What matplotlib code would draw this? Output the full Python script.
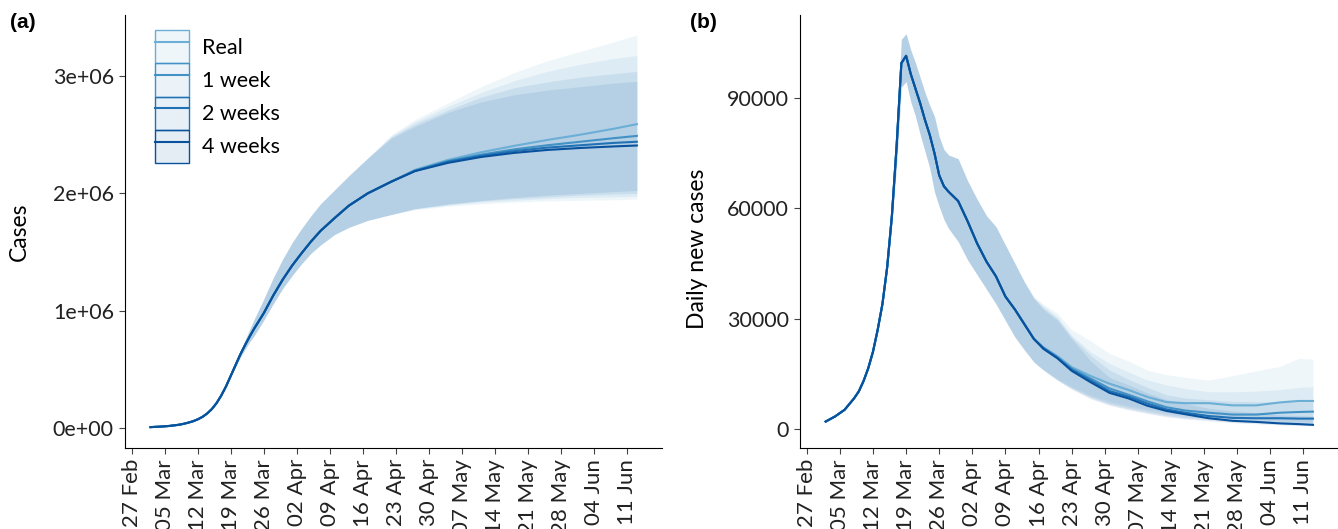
import pandas as pd
import matplotlib
matplotlib.use("Agg")
import matplotlib.pyplot as plt
from matplotlib.colors import to_rgba
from matplotlib.lines import Line2D
from matplotlib.patches import Patch
from matplotlib.ticker import FuncFormatter

plt.rcParams['font.family'] = ['Lato', 'DejaVu Sans']
plt.rcParams['font.size'] = 15

start = pd.Timestamp("2020-02-27")

labels = ["Real", "1 week", "2 weeks", "4 weeks"]
colors = ["#6baed6", "#4292c6", "#2171b5", "#08519c"]
tick_dates = pd.date_range("2020-02-27", "2020-06-11", freq="7D")

# ---- (a) cumulative cases, millions; days counted from 27 Feb
days_a = [4, 6, 8, 10, 11, 12, 13, 14, 15, 16, 17, 18, 19, 20, 21, 22, 23, 24, 25, 26,
          28, 30, 32, 34, 36, 38, 40, 43, 46, 50]
cum_mid = [.008, .012, .018, .028, .036, .046, .058, .074, .095, .124, .162, .213, .278, .355,
           .445, .535, .625, .705, .78, .85, .98, 1.13, 1.265, 1.385, 1.49, 1.59, 1.68, 1.79,
           1.895, 2.0]
cum_hi = [.008, .012, .018, .028, .036, .046, .058, .074, .095, .124, .162, .214, .28, .36,
          .452, .55, .65, .745, .84, .93, 1.10, 1.28, 1.44, 1.58, 1.70, 1.81, 1.91, 2.03,
          2.15, 2.30]
cum_lo = [.008, .012, .018, .028, .036, .046, .058, .074, .095, .124, .162, .212, .276, .35,
          .438, .52, .60, .67, .735, .79, .92, 1.06, 1.19, 1.30, 1.40, 1.49, 1.56, 1.65,
          1.71, 1.77]

days_a_tail = [55, 60, 67, 74, 81, 88, 95, 102, 107]
cum_mid_tail = {
    "Real": [2.10, 2.20, 2.285, 2.35, 2.405, 2.455, 2.50, 2.55, 2.59],
    "1 week": [2.10, 2.195, 2.275, 2.33, 2.375, 2.41, 2.44, 2.47, 2.49],
    "2 weeks": [2.10, 2.19, 2.27, 2.32, 2.36, 2.39, 2.41, 2.43, 2.44],
    "4 weeks": [2.10, 2.19, 2.26, 2.31, 2.345, 2.37, 2.387, 2.40, 2.408],
}
cum_hi_tail = {
    "Real": [2.50, 2.63, 2.77, 2.91, 3.03, 3.13, 3.21, 3.29, 3.35],
    "1 week": [2.49, 2.61, 2.74, 2.86, 2.96, 3.04, 3.10, 3.15, 3.175],
    "2 weeks": [2.48, 2.59, 2.71, 2.82, 2.90, 2.95, 2.99, 3.02, 3.04],
    "4 weeks": [2.47, 2.57, 2.69, 2.78, 2.84, 2.88, 2.91, 2.94, 2.955],
}
cum_lo_tail = {
    "Real": [1.82, 1.86, 1.89, 1.91, 1.925, 1.935, 1.94, 1.945, 1.95],
    "1 week": [1.82, 1.865, 1.90, 1.925, 1.94, 1.955, 1.965, 1.97, 1.975],
    "2 weeks": [1.82, 1.87, 1.905, 1.935, 1.955, 1.97, 1.985, 1.995, 2.0],
    "4 weeks": [1.82, 1.87, 1.91, 1.94, 1.965, 1.985, 2.0, 2.015, 2.025],
}

# ---- (b) daily new cases
days_b = [4, 6, 8, 10, 11, 12, 13, 14, 15, 16, 17, 18, 19, 20, 21, 22, 23, 24, 25, 26,
          27, 28, 29, 30, 32, 34, 36, 38, 40, 42, 44, 46]
daily_mid = [2000, 3400, 5200, 8300, 10200, 13000, 16500, 21000, 27000, 34000, 44000, 58000,
             77000, 99500, 101500, 96500, 92500, 88500, 84000, 80000, 75000, 69000, 66000,
             64500, 62000, 56500, 50500, 45500, 41500, 36000, 32500, 28500]
daily_hi = [2000, 3400, 5300, 8400, 10400, 13200, 16800, 21500, 27500, 35000, 45500, 60500,
            81000, 106000, 107500, 103000, 99500, 95500, 91500, 88000, 85000, 79500, 76000,
            74500, 73500, 67500, 62500, 58000, 55000, 50000, 45000, 40000]
daily_lo = [1950, 3350, 5100, 8200, 10000, 12800, 16200, 20500, 26500, 33000, 42500, 55500,
            72000, 93000, 94500, 89000, 85000, 80000, 75500, 71000, 64500, 60500, 57000,
            54500, 51000, 46000, 42000, 38000, 34000, 29500, 25000, 21500]

days_b_tail = [48, 50, 53, 56, 60, 64, 68, 72, 76, 80, 85, 90, 95, 100, 104, 107]
daily_mid_tail = {
    "Real": [24500, 22200, 19800, 16800, 14400, 12300, 10600, 8700, 7300, 7000, 7000, 6400, 6400, 7200, 7600, 7600],
    "1 week": [24500, 22100, 19500, 16400, 13700, 11000, 9300, 7500, 5900, 5000, 4400, 3900, 3900, 4400, 4600, 4700],
    "2 weeks": [24500, 22000, 19300, 16100, 13200, 10300, 8800, 6900, 5300, 4400, 3500, 3000, 2900, 2900, 2800, 2800],
    "4 weeks": [24500, 21800, 19200, 15800, 12700, 9800, 8300, 6300, 4900, 4000, 2900, 2200, 1900, 1500, 1300, 1100],
}
daily_hi_tail = {
    "Real": [36000, 34000, 31500, 27000, 24000, 20500, 18500, 16000, 14800, 14000, 13300, 14500, 15800, 17000, 19200, 19000],
    "1 week": [35800, 33500, 30500, 25500, 21000, 17800, 15500, 13300, 12000, 11000, 10100, 10100, 10300, 10700, 11300, 11500],
    "2 weeks": [35600, 33000, 30000, 25000, 20000, 16000, 13500, 11300, 9300, 8400, 7900, 7500, 7400, 7400, 7400, 7400],
    "4 weeks": [35500, 32500, 29500, 24500, 18500, 14000, 12000, 9800, 8000, 6900, 5600, 4900, 4400, 3800, 3600, 3500],
}
daily_lo_tail = {
    "Real": [18300, 16200, 13600, 11500, 9200, 7500, 6300, 5400, 4500, 3800, 3300, 2800, 2500, 2200, 2000, 1900],
    "1 week": [18200, 16100, 13400, 11200, 8800, 7000, 5900, 4900, 4000, 3300, 2800, 2300, 2000, 1700, 1500, 1400],
    "2 weeks": [18200, 16000, 13300, 11000, 8500, 6700, 5500, 4500, 3600, 3000, 2500, 2000, 1700, 1400, 1200, 1100],
    "4 weeks": [18200, 16000, 13200, 10800, 8200, 6400, 5200, 4200, 3300, 2700, 2200, 1700, 1400, 1100, 900, 800],
}


def to_dates(days):
    return start + pd.to_timedelta(days, unit="D")


fig = plt.figure(figsize=(13.38, 5.29), dpi=100)
ax_a = fig.add_axes([0.0934, 0.1531, 0.4013, 0.8185])
ax_b = fig.add_axes([0.598, 0.1531, 0.402, 0.8185])

x_a = to_dates(days_a + days_a_tail)
x_b = to_dates(days_b + days_b_tail)

for lab, c in zip(labels, colors):
    lo = [v * 1e6 for v in cum_lo + cum_lo_tail[lab]]
    hi = [v * 1e6 for v in cum_hi + cum_hi_tail[lab]]
    ax_a.fill_between(x_a, lo, hi, color=c, alpha=0.1, lw=0)
    ax_b.fill_between(x_b, daily_lo + daily_lo_tail[lab], daily_hi + daily_hi_tail[lab],
                      color=c, alpha=0.1, lw=0)

for lab, c in zip(labels, colors):
    mid = [v * 1e6 for v in cum_mid + cum_mid_tail[lab]]
    ax_a.plot(x_a, mid, color=c, lw=1.5)
    ax_b.plot(x_b, daily_mid + daily_mid_tail[lab], color=c, lw=1.5)

for ax in (ax_a, ax_b):
    ax.spines[["top", "right"]].set_visible(False)
    ax.set_xticks(tick_dates)
    ax.set_xticklabels([d.strftime("%d %b") for d in tick_dates], rotation=90, fontsize=16)
    ax.set_xlim(start - pd.Timedelta(days=1.4), start + pd.Timedelta(days=112.3))
    ax.tick_params(direction="out", length=4, width=0.8, color="#444", pad=4,
                   labelcolor="#222")
    ax.tick_params(axis="y", labelsize=15.5)

ax_a.set_ylim(-0.17e6, 3.52e6)
ax_a.set_yticks([0, 1e6, 2e6, 3e6])
ax_a.yaxis.set_major_formatter(FuncFormatter(lambda v, p: f"{v:.0e}"))
ax_a.set_ylabel("Cases", fontsize=16.5)
ax_a.yaxis.set_label_coords(-0.177, 0.5)

ax_b.set_ylim(-5200, 112600)
ax_b.set_yticks([0, 30000, 60000, 90000])
ax_b.set_ylabel("Daily new cases", fontsize=16.5)
ax_b.yaxis.set_label_coords(-0.171, 0.46)

handles = [(Patch(facecolor=to_rgba(c, 0.1), edgecolor=c, lw=1),
            Line2D([], [], color=c, lw=1.5)) for c in colors]
ax_a.legend(handles, labels, loc="upper left", bbox_to_anchor=(0.056, 0.965),
            frameon=False, labelspacing=0, handlelength=1.6, handleheight=2.0,
            handletextpad=0.6, borderpad=0, borderaxespad=0, fontsize=15.5)

fig.text(10 / 1338, 1 - 22 / 529, "(a)", family="Liberation Sans", weight="bold",
         fontsize=15, va="center")
fig.text(690 / 1338, 1 - 22 / 529, "(b)", family="Liberation Sans", weight="bold",
         fontsize=15, va="center")

fig.savefig("out.png", dpi=100)
